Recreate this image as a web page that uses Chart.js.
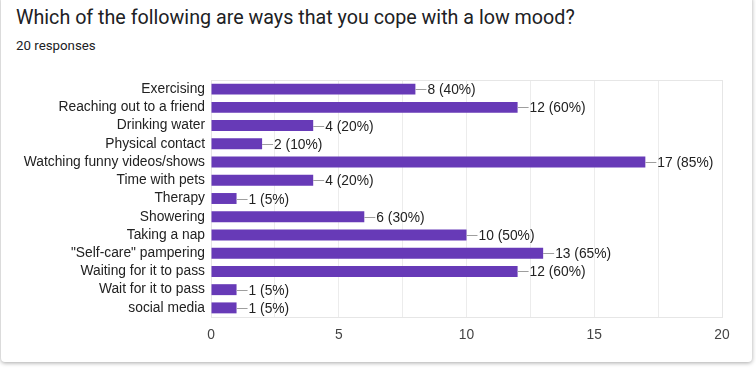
<!DOCTYPE html>
<html>
<head>
<meta charset="utf-8">
<script src="https://cdn.jsdelivr.net/npm/chart.js@4"></script>
<style>
  html, body { margin: 0; padding: 0; width: 756px; height: 370px; background: #fff; overflow: hidden; }
  #card {
    position: absolute; left: 1px; top: -4px; width: 751px; height: 366px;
    background: #fff; border-radius: 4px;
    box-shadow: 0 1px 4px rgba(0,0,0,0.35);
  }
  #title {
    position: absolute; left: 16px; top: 6px;
    font-family: Roboto, "Liberation Sans", sans-serif; font-size: 19.7px; color: #202124;
  }
  #sub {
    position: absolute; left: 16px; top: 38px;
    font-family: Roboto, "Liberation Sans", sans-serif; font-size: 13.3px; color: #202124;
  }
  #wrap { position: absolute; left: 0; top: 0; width: 756px; height: 370px; }
</style>
</head>
<body>
<div id="card"></div>
<div id="title">Which of the following are ways that you cope with a low mood?</div>
<div id="sub">20 responses</div>
<div id="wrap"><canvas id="c" width="756" height="370"></canvas></div>
<script>
const categories = [
  'Exercising', 'Reaching out to a friend', 'Drinking water', 'Physical contact',
  'Watching funny videos/shows', 'Time with pets', 'Therapy', 'Showering',
  'Taking a nap', '"Self-care" pampering', 'Waiting for it to pass',
  'Wait for it to pass', 'social media'
];
const counts = [8, 12, 4, 2, 17, 4, 1, 6, 10, 13, 12, 1, 1];
const totalResponses = 20;
const xTicks = [0, 5, 10, 15, 20];

const font = { family: '"Liberation Sans", Arial, sans-serif', size: 13.8 };

const frame = {
  id: 'frame',
  beforeDatasetsDraw(chart) {
    const a = chart.chartArea, ctx = chart.ctx;
    ctx.save();
    ctx.strokeStyle = '#e6e6e6';
    ctx.lineWidth = 1;
    ctx.strokeRect(Math.round(a.left) + 0.5, Math.round(a.top) + 0.5,
      Math.round(a.right - a.left), Math.round(a.bottom - a.top));
    ctx.restore();
  }
};

const valueLabels = {
  id: 'valueLabels',
  afterDatasetsDraw(chart) {
    const ctx = chart.ctx;
    const meta = chart.getDatasetMeta(0);
    ctx.save();
    ctx.font = `${font.size}px ${font.family}`;
    ctx.textBaseline = 'middle';
    ctx.textAlign = 'left';
    meta.data.forEach((bar, i) => {
      const v = counts[i];
      const x = bar.x, y = Math.round(bar.y) + 0.5;
      ctx.strokeStyle = '#9e9e9e';
      ctx.lineWidth = 1;
      ctx.beginPath();
      ctx.moveTo(x, y);
      ctx.lineTo(x + 11, y);
      ctx.stroke();
      ctx.fillStyle = '#222';
      ctx.fillText(`${v} (${Math.round(v / totalResponses * 100)}%)`, x + 12, y + 0.5);
    });
    ctx.restore();
  }
};

new Chart(document.getElementById('c'), {
  type: 'bar',
  data: {
    labels: categories,
    datasets: [{
      data: counts,
      backgroundColor: '#673ab7',
      borderWidth: 0,
      barPercentage: 0.6,
      categoryPercentage: 1
    }]
  },
  options: {
    indexAxis: 'y',
    responsive: false,
    animation: false,
    layout: { padding: { top: 80, right: 34, left: 0, bottom: 0 } },
    plugins: { legend: { display: false }, tooltip: { enabled: false } },
    scales: {
      x: {
        min: 0, max: 20,
        afterFit(s) { s.height = 53; },
        afterBuildTicks(s) {
          s.ticks = [];
          for (let v = 0; v <= 20; v += 2.5) s.ticks.push({ value: v });
        },
        ticks: {
          padding: 10,
          color: '#444',
          font,
          maxRotation: 0,
          autoSkip: false,
          callback: v => xTicks.includes(v) ? String(v) : ''
        },
        grid: { color: '#ececec', drawTicks: false },
        border: { display: false }
      },
      y: {
        afterFit(s) { s.width = 211; },
        ticks: { padding: 6, color: '#222', font, autoSkip: false },
        grid: { display: false, drawTicks: false },
        border: { color: '#333', width: 1 }
      }
    }
  },
  plugins: [frame, valueLabels]
});
</script>
</body>
</html>
